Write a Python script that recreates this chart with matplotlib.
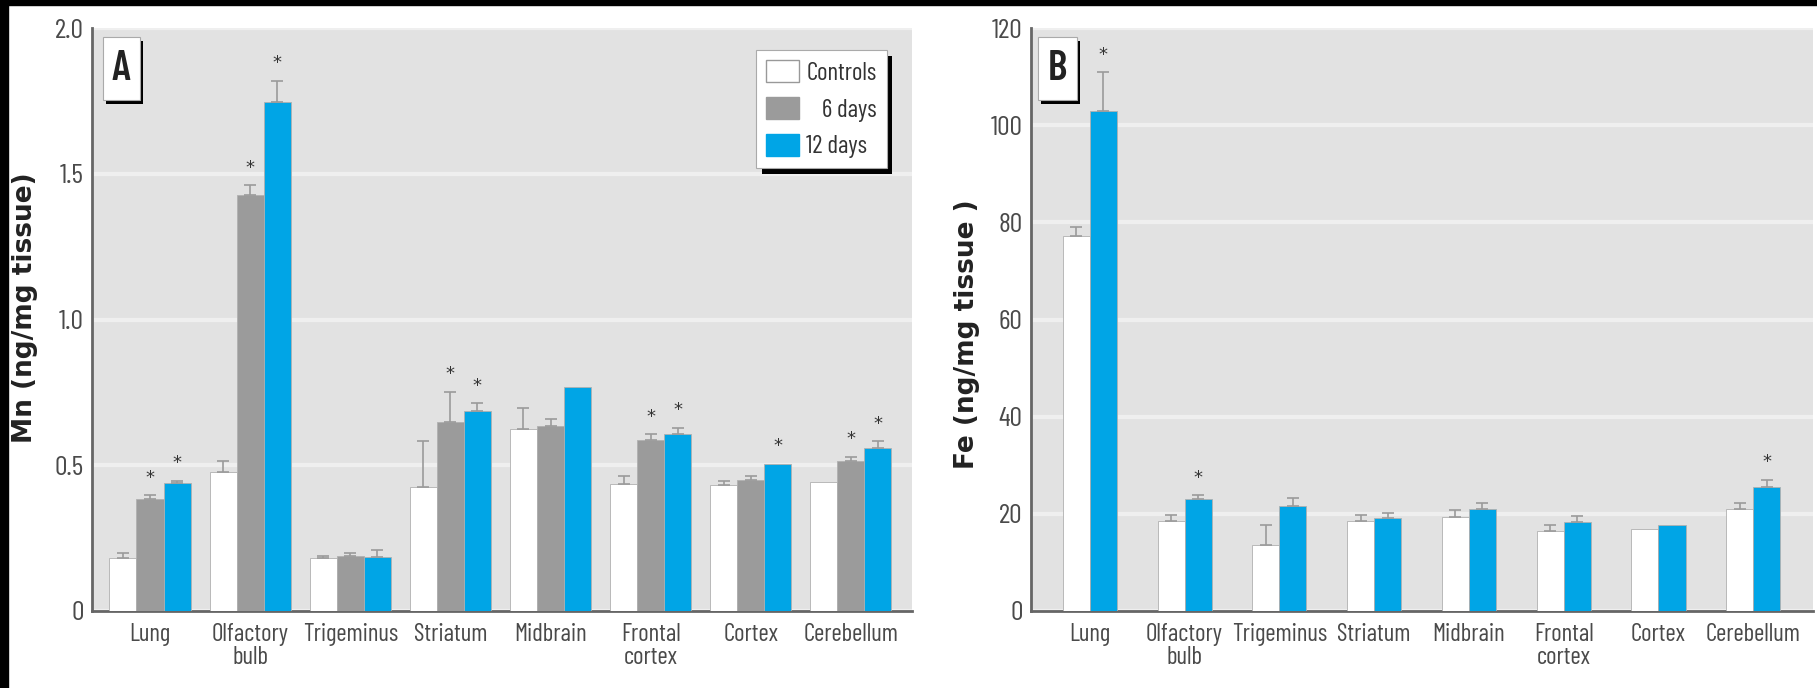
import matplotlib
matplotlib.use('Agg')
import matplotlib.pyplot as plt
import matplotlib.patheffects as pe
from matplotlib.patches import Patch, Rectangle
import numpy as np

# tissues shown on both panels
tissues = ['Lung', 'Olfactory\nbulb', 'Trigeminus', 'Striatum', 'Midbrain',
           'Frontal\ncortex', 'Cortex', 'Cerebellum']

# Mn (ng/mg tissue), mean and upper SE
mn_controls = [0.18, 0.477, 0.18, 0.424, 0.624, 0.435, 0.432, 0.444]
mn_controls_err = [0.02, 0.038, 0.01, 0.16, 0.073, 0.027, 0.015, 0.0]
mn_6days = [0.383, 1.429, 0.19, 0.648, 0.636, 0.586, 0.45, 0.515]
mn_6days_err = [0.014, 0.033, 0.008, 0.105, 0.023, 0.02, 0.012, 0.015]
mn_12days = [0.44, 1.747, 0.186, 0.685, 0.768, 0.609, 0.505, 0.56]
mn_12days_err = [0.007, 0.073, 0.024, 0.027, 0.0, 0.02, 0.0, 0.023]
mn_sig_6 = [True, True, False, True, False, True, False, True]
mn_sig_12 = [True, True, False, True, False, True, True, True]

# Fe (ng/mg tissue)
fe_controls = [77.3, 18.6, 13.6, 18.6, 19.3, 16.4, 16.8, 20.9]
fe_controls_err = [1.8, 1.2, 4.1, 1.2, 1.4, 1.3, 0.0, 1.4]
fe_12days = [103.0, 23.0, 21.6, 19.1, 20.9, 18.4, 17.7, 25.6]
fe_12days_err = [7.9, 0.8, 1.6, 1.1, 1.4, 1.1, 0.0, 1.4]
fe_sig_12 = [True, True, False, False, False, False, False, True]

WHITE = '#ffffff'
GRAY = '#9b9b9b'
BLUE = '#00a5e6'
BG = '#e2e2e2'
NARROW = ['Barlow Condensed', 'DejaVu Sans']

fig = plt.figure(figsize=(18.17, 6.88), dpi=100)
ax_a = fig.add_axes([0.0506, 0.112, 0.4513, 0.847])
ax_b = fig.add_axes([0.5674, 0.112, 0.4304, 0.847])

# black scan edges along the top and left
fig.patches.append(Rectangle((0, 0.9927), 1, 0.0073, transform=fig.transFigure,
                             color='black', zorder=10))
fig.patches.append(Rectangle((0, 0), 0.0044, 1, transform=fig.transFigure,
                             color='black', zorder=10))


def style_axes(ax, ticks, ticklabels, ylim, ylabel, label_x, label_y):
    ax.set_facecolor(BG)
    for s in ['top', 'right']:
        ax.spines[s].set_visible(False)
    for s in ['left', 'bottom']:
        ax.spines[s].set_color('#666666')
        ax.spines[s].set_linewidth(2)
    ax.set_ylim(*ylim)
    ax.set_yticks(ticks)
    ax.set_yticklabels(ticklabels, family=NARROW, fontsize=20, color='#4a4a4a')
    ax.set_xticks(np.arange(len(tissues)))
    ax.set_xticklabels(tissues, family=NARROW, fontsize=18, color='#4a4a4a',
                       linespacing=1.0, va='top')
    ax.tick_params(length=0, axis='both')
    ax.tick_params(axis='x', pad=9)
    ax.tick_params(axis='y', pad=6)
    ax.yaxis.grid(True, color='#efefef', linewidth=3)
    ax.set_axisbelow(True)
    ax.set_ylabel(ylabel, fontsize=19, fontweight='bold', color='#222222')
    ax.yaxis.set_label_coords(label_x, label_y)


def draw_bars(ax, pos, vals, errs, color, sig, capw):
    ax.bar(pos, vals, width=width, color=color, edgecolor='#b0b0b0',
           linewidth=0.6, zorder=3)
    shown = [i for i, e in enumerate(errs) if e > 0]
    ax.errorbar(pos[shown], np.array(vals)[shown],
                yerr=[np.zeros(len(shown)), np.array(errs)[shown]],
                fmt='none', ecolor='#9a9a9a', elinewidth=1.2, capsize=capw,
                capthick=1.2, zorder=4)
    for i, flag in enumerate(sig):
        if flag:
            ax.annotate('*', (pos[i], vals[i] + errs[i]), xytext=(0, 6),
                        textcoords='offset points', ha='center', va='bottom',
                        fontsize=13, color='#333333', zorder=5)


def panel_letter(ax, letter, x0, x1, y0, y1):
    box = Rectangle((x0, y0), x1 - x0, y1 - y0, transform=ax.transAxes,
                    facecolor='white', edgecolor='#aaaaaa', linewidth=0.8,
                    zorder=6)
    box.set_path_effects([pe.SimplePatchShadow(offset=(2.5, -2.5),
                                               shadow_rgbFace='black', alpha=1),
                          pe.Normal()])
    ax.add_artist(box)
    ax.text((x0 + x1) / 2, (y0 + y1) / 2, letter, transform=ax.transAxes,
            family=NARROW, fontsize=30, fontweight='semibold', color='#222222',
            ha='center', va='center', zorder=7)


x = np.arange(len(tissues))

# panel A: Mn
width = 0.27
draw_bars(ax_a, x - width, mn_controls, mn_controls_err, WHITE,
          [False] * len(tissues), 4)
draw_bars(ax_a, x, mn_6days, mn_6days_err, GRAY, mn_sig_6, 4)
draw_bars(ax_a, x + width, mn_12days, mn_12days_err, BLUE, mn_sig_12, 4)
ax_a.set_xlim(-0.58, 7.61)
style_axes(ax_a, [0, 0.5, 1.0, 1.5, 2.0], ['0', '0.5', '1.0', '1.5', '2.0'],
           (0, 2.0), 'Mn (ng/mg tissue)', -0.066, 0.521)
panel_letter(ax_a, 'A', 0.0134, 0.0585, 0.8765, 0.9846)

# panel B: Fe
width = 0.285
draw_bars(ax_b, x - width / 2, fe_controls, fe_controls_err, WHITE,
          [False] * len(tissues), 4)
draw_bars(ax_b, x + width / 2, fe_12days, fe_12days_err, BLUE, fe_sig_12, 4)
ax_b.set_xlim(-0.62, 7.63)
style_axes(ax_b, [0, 20, 40, 60, 80, 100, 120],
           ['0', '20', '40', '60', '80', '100', '120'],
           (0, 120), 'Fe (ng/mg tissue )', -0.065, 0.475)
panel_letter(ax_b, 'B', 0.009, 0.0588, 0.8765, 0.9846)

handles = [Patch(facecolor=WHITE, edgecolor='#999999', label='Controls'),
           Patch(facecolor=GRAY, edgecolor=GRAY, label='\u20076 days'),
           Patch(facecolor=BLUE, edgecolor=BLUE, label='12 days')]
leg = ax_a.legend(handles=handles, loc='upper right',
                  bbox_to_anchor=(0.9695, 0.962), borderaxespad=0,
                  fancybox=False, framealpha=1, edgecolor='#aaaaaa',
                  prop={'family': NARROW, 'size': 18}, labelcolor='#333333',
                  handlelength=1.3, handleheight=0.95, handletextpad=0.3,
                  labelspacing=0.5, borderpad=0.4)
leg.get_frame().set_linewidth(0.8)
leg.get_frame().set_path_effects(
    [pe.SimplePatchShadow(offset=(4, -4), shadow_rgbFace='black', alpha=1),
     pe.Normal()])

fig.savefig('out.png', dpi=100, facecolor='white')
